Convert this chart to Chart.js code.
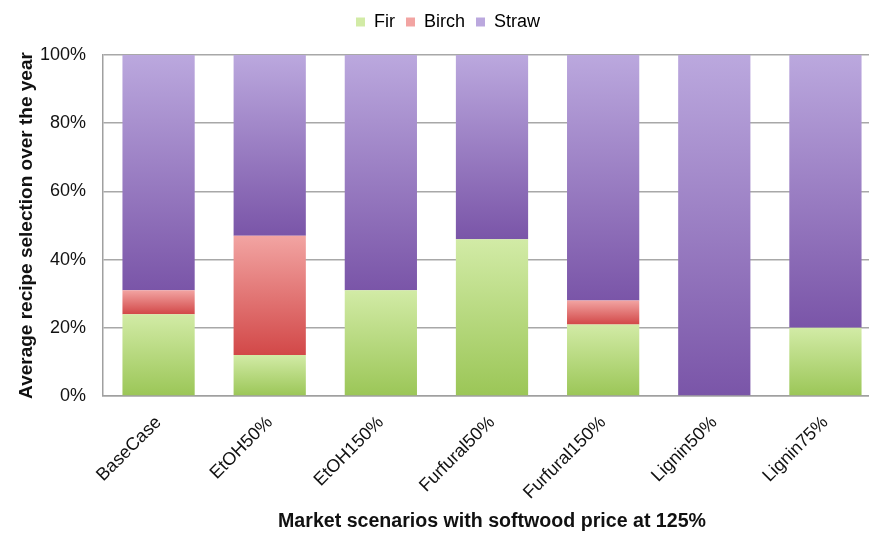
<!DOCTYPE html>
<html lang="en">
  <head>
    <meta charset="UTF-8" />
    <title>Recipe selection by market scenario</title>
    <script src="https://cdn.jsdelivr.net/npm/chart.js"></script>
    <style>
      html, body { margin: 0; padding: 0; background: #fff; overflow: hidden; }
      #wrap { width: 882px; height: 533px; }
    </style>
  </head>
  <body>
    <div id="wrap"><canvas id="recipeChart"></canvas></div>
    <script>
      // Scenario names along the x axis
      const scenarios = ["BaseCase", "EtOH50%", "EtOH150%", "Furfural50%", "Furfural150%", "Lignin50%", "Lignin75%"];

      // Share of each feedstock recipe (%) per scenario
      const fir = [24, 12, 31, 46, 21, 0, 20];
      const birch = [7, 35, 0, 0, 7, 0, 0];
      const straw = [69, 53, 69, 54, 72, 100, 80];

      const yTicks = [0, 20, 40, 60, 80, 100];

      // top / bottom colours of each segment's gradient
      const shades = {
        Fir: ["#d2eba6", "#9bc657"],
        Birch: ["#f2a4a2", "#d24848"],
        Straw: ["#bba8de", "#7a55a8"],
      };

      const series = [
        { label: "Fir", data: fir },
        { label: "Birch", data: birch },
        { label: "Straw", data: straw },
      ];

      // vertical gradient spanning only the segment being drawn
      function segmentFill(ctx) {
        const chart = ctx.chart;
        const y = chart.scales.y;
        const ds = ctx.datasetIndex;
        const name = series[ds].label;
        if (!y || ctx.type !== "data") return shades[name][1];
        const i = ctx.dataIndex;
        let base = 0;
        for (let k = 0; k < ds; k++) base += series[k].data[i];
        const top = base + series[ds].data[i];
        const y0 = y.getPixelForValue(top);
        const y1 = y.getPixelForValue(base);
        if (!isFinite(y0) || !isFinite(y1) || y0 === y1) return shades[name][1];
        const g = chart.ctx.createLinearGradient(0, y0, 0, y1);
        g.addColorStop(0, shades[name][0]);
        g.addColorStop(1, shades[name][1]);
        return g;
      }

      // leave extra room under the legend
      const legendGap = {
        id: "legendGap",
        beforeInit(chart) {
          if (!chart.legend) return;
          const fit = chart.legend.fit;
          chart.legend.fit = function () {
            fit.call(this);
            this.height = 53;
          };
        },
      };

      Chart.defaults.font.family = "'Liberation Sans', Arial, sans-serif";
      Chart.defaults.color = "#111";

      new Chart(document.getElementById("recipeChart"), {
        type: "bar",
        data: {
          labels: scenarios,
          datasets: series.map((s) => ({
            label: s.label,
            data: s.data,
            backgroundColor: segmentFill,
            borderWidth: 0,
            categoryPercentage: 1,
            barPercentage: 0.65,
          })),
        },
        plugins: [legendGap],
        options: {
          responsive: true,
          maintainAspectRatio: false,
          animation: false,
          layout: { padding: { top: 2, left: 15, right: 1, bottom: 0 } },
          plugins: {
            tooltip: { enabled: false },
            legend: {
              position: "top",
              labels: {
                font: { size: 18 },
                boxWidth: 9,
                boxHeight: 9,
                padding: 11,
                generateLabels: (chart) =>
                  series.map((s, i) => ({
                    text: s.label,
                    fillStyle: shades[s.label][0],
                    strokeStyle: shades[s.label][0],
                    lineWidth: 0,
                    datasetIndex: i,
                  })),
              },
            },
          },
          scales: {
            x: {
              stacked: true,
              afterFit: (scale) => {
                scale.height = 137;
                scale.paddingLeft = 0;
              },
              grid: { display: false },
              border: { color: "#a0a0a0", width: 1.5 },
              ticks: {
                font: { size: 18 },
                color: "#111",
                minRotation: 45,
                maxRotation: 45,
                padding: 8,
              },
              title: {
                display: true,
                text: "Market scenarios with softwood price at 125%",
                font: { size: 19.6, weight: "bold" },
                color: "#111",
                padding: { top: 0, bottom: 0 },
              },
            },
            y: {
              stacked: true,
              min: 0,
              max: 100,
              afterFit: (scale) => {
                scale.width = 88;
              },
              afterBuildTicks: (axis) => {
                axis.ticks = yTicks.map((v) => ({ value: v }));
              },
              grid: { color: "#a8a8a8", lineWidth: 1.5, drawTicks: false },
              border: { color: "#a0a0a0", width: 1.5 },
              ticks: {
                font: { size: 18 },
                color: "#111",
                padding: 17,
                callback: (v) => v + "%",
              },
              title: {
                display: true,
                text: "Average recipe selection over the year",
                font: { size: 19, weight: "bold" },
                color: "#111",
                padding: { top: 0, bottom: 4 },
              },
            },
          },
        },
      });
    </script>
  </body>
</html>
